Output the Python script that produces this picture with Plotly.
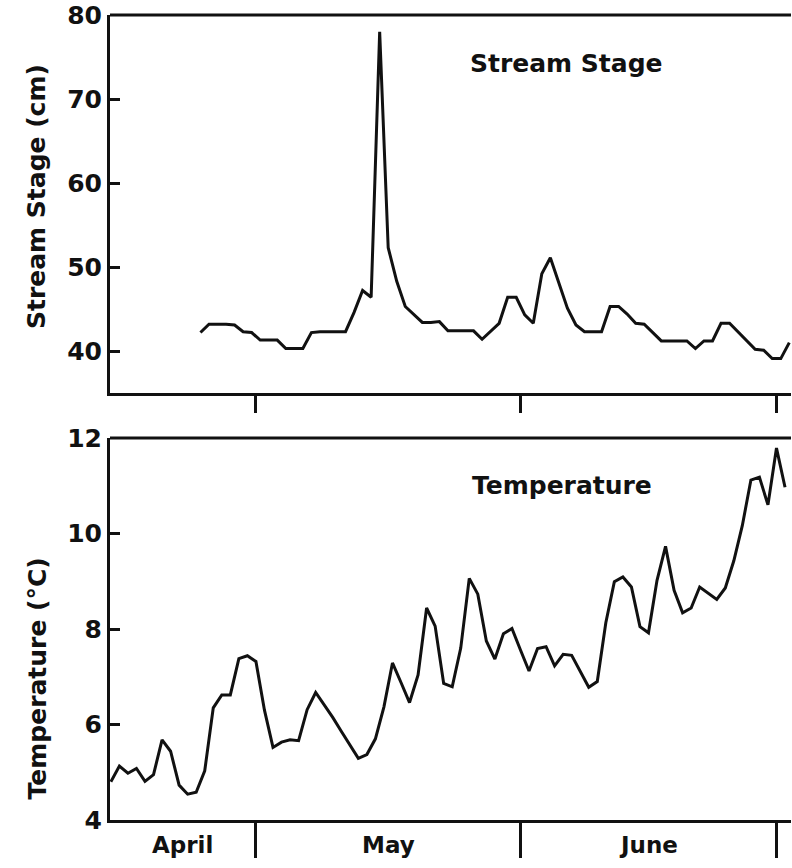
import plotly.graph_objects as go

# ---- data (days counted from April 1 = day 0) ----
stage_start_day = 23.5
stage_cm = [42.2, 43.2, 43.2, 43.2, 43.1, 42.3, 42.2, 41.3, 41.3, 41.3,
            40.3, 40.3, 40.3, 42.2, 42.3, 42.3, 42.3, 42.3, 44.6, 47.2,
            46.4, 78.0, 52.3, 48.3, 45.3, 44.3, 43.4, 43.4, 43.5, 42.4,
            42.4, 42.4, 42.4, 41.4, 42.4, 43.3, 46.4, 46.4, 44.3, 43.3,
            49.2, 51.1, 48.1, 45.1, 43.1, 42.3, 42.3, 42.3, 45.3, 45.3,
            44.4, 43.3, 43.2, 42.2, 41.2, 41.2, 41.2, 41.2, 40.3, 41.2,
            41.2, 43.3, 43.3, 42.3, 41.2, 40.2, 40.1, 39.1, 39.1, 41.0]

temp_start_day = 13.0
temp_c = [4.80, 5.13, 4.98, 5.08, 4.81, 4.95, 5.68, 5.44, 4.73, 4.54,
          4.58, 5.03, 6.35, 6.62, 6.62, 7.38, 7.44, 7.32, 6.30, 5.52,
          5.63, 5.68, 5.66, 6.31, 6.67, 6.41, 6.15, 5.86, 5.58, 5.29,
          5.37, 5.70, 6.37, 7.29, 6.88, 6.46, 7.04, 8.44, 8.06, 6.86,
          6.79, 7.60, 9.06, 8.73, 7.75, 7.37, 7.90, 8.01, 7.56, 7.12,
          7.59, 7.63, 7.23, 7.47, 7.45, 7.11, 6.78, 6.90, 8.13, 8.99,
          9.09, 8.88, 8.05, 7.92, 9.02, 9.73, 8.81, 8.34, 8.44, 8.88,
          8.75, 8.62, 8.86, 9.43, 10.17, 11.12, 11.18, 10.60, 11.79, 10.97]

month_names = ["April", "May", "June"]
month_boundaries = [30, 61, 91]   # May 1, June 1, July 1

stage_days = [stage_start_day + i for i in range(len(stage_cm))]
temp_days = [temp_start_day + i for i in range(len(temp_c))]

X_RANGE = [12.9, 92.7]
FONT = "DejaVu Sans"
BLACK = "#111111"

fig = go.Figure()
fig.add_trace(go.Scatter(x=stage_days, y=stage_cm, mode="lines",
                         line=dict(color=BLACK, width=3), xaxis="x", yaxis="y",
                         showlegend=False, hoverinfo="skip"))
fig.add_trace(go.Scatter(x=temp_days, y=temp_c, mode="lines",
                         line=dict(color=BLACK, width=3), xaxis="x2", yaxis="y2",
                         showlegend=False, hoverinfo="skip"))

common_x = dict(range=X_RANGE, showgrid=False, zeroline=False, showline=True,
                linecolor=BLACK, linewidth=3, tickmode="array",
                tickvals=month_boundaries, ticktext=["", "", ""],
                ticks="outside", tickcolor=BLACK, tickwidth=2.5)
common_y = dict(showgrid=False, zeroline=False, showline=True, linecolor=BLACK,
                linewidth=3, ticks="inside", ticklen=10, tickwidth=2.5,
                tickcolor=BLACK, ticklabelstandoff=0,
                tickfont=dict(family=FONT, size=25, color=BLACK, weight="bold"))

fig.update_layout(
    width=792, height=868,
    margin=dict(l=110, r=1, t=15, b=48),
    paper_bgcolor="white", plot_bgcolor="white",
    xaxis=dict(**common_x, domain=[0, 1], anchor="y", ticklen=17),
    yaxis=dict(**common_y, domain=[0.5304, 1.0], anchor="x", range=[35, 80],
               tickvals=[40, 50, 60, 70, 80]),
    xaxis2=dict(**common_x, domain=[0, 1], anchor="y2", ticklen=35),
    yaxis2=dict(**common_y, domain=[0.0, 0.4745], anchor="x2", range=[4, 12],
                tickvals=[4, 6, 8, 10, 12]),
)

# top borders of both panels
for xr, yr in (("x domain", "y domain"), ("x2 domain", "y2 domain")):
    fig.add_shape(type="line", xref=xr, yref=yr, x0=0, x1=1, y0=1, y1=1,
                  line=dict(color=BLACK, width=3))

bold = dict(family=FONT, color=BLACK, weight="bold")
centre = dict(showarrow=False, xanchor="center", yanchor="middle")

# panel titles
fig.add_annotation(text="Stream Stage", xref="x domain", yref="y domain",
                   x=0.67, y=0.873, font=dict(size=25, **bold), **centre)
fig.add_annotation(text="Temperature", xref="x2 domain", yref="y2 domain",
                   x=0.664, y=0.877, font=dict(size=25, **bold), **centre)

# axis titles
fig.add_annotation(text="Stream Stage (cm)", xref="paper", yref="paper",
                   x=-0.107, y=0.774, textangle=-90,
                   font=dict(size=25, **bold), **centre)
fig.add_annotation(text="Temperature (°C)", xref="paper", yref="paper",
                   x=-0.107, y=0.176, textangle=-90,
                   font=dict(size=25, **bold), **centre)

# month labels centred between visible boundaries
edges = [X_RANGE[0]] + month_boundaries
for i, name in enumerate(month_names):
    mid = (edges[i] + edges[i + 1]) / 2
    fig.add_annotation(text=name, xref="x2", yref="paper", x=mid, y=-0.031,
                       font=dict(size=23, **bold), **centre)

fig.write_html("out.html")
